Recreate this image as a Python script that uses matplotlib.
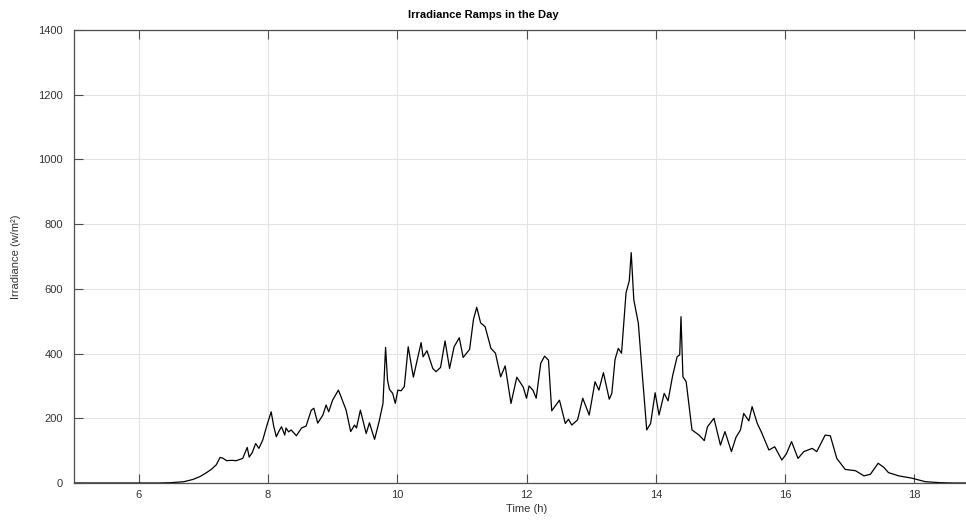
#!/usr/bin/env python3

import matplotlib
matplotlib.use("Agg")
import matplotlib.pyplot as plt
import numpy as np

# --- Data (hours, W/m^2) ---
time_h = [
    5.0, 6.0, 6.3, 6.5, 6.7, 6.84, 6.95, 7.05, 7.13, 7.20, 7.26, 7.30, 7.36,
    7.44, 7.51, 7.61, 7.68, 7.71, 7.76, 7.81, 7.86, 7.92, 7.99, 8.05, 8.09,
    8.13, 8.17, 8.21, 8.26, 8.28, 8.32, 8.36, 8.44, 8.52, 8.59, 8.67, 8.71,
    8.77, 8.85, 8.90, 8.94, 9.00, 9.09, 9.13, 9.21, 9.28, 9.34, 9.37, 9.43,
    9.52, 9.57, 9.65, 9.72, 9.78, 9.82, 9.85, 9.88, 9.93, 9.97, 10.01, 10.06,
    10.11, 10.17, 10.25, 10.31, 10.37, 10.40, 10.46, 10.55, 10.60, 10.67,
    10.74, 10.81, 10.88, 10.96, 11.02, 11.12, 11.18, 11.23, 11.29, 11.36,
    11.45, 11.52, 11.60, 11.67, 11.76, 11.85, 11.95, 12.00, 12.04, 12.10,
    12.15, 12.22, 12.28, 12.34, 12.39, 12.51, 12.60, 12.65, 12.70, 12.79,
    12.87, 12.97, 13.06, 13.12, 13.19, 13.28, 13.32, 13.37, 13.42, 13.47,
    13.54, 13.59, 13.62, 13.66, 13.73, 13.79, 13.86, 13.92, 13.99, 14.05,
    14.13, 14.19, 14.26, 14.33, 14.37, 14.39, 14.42, 14.47, 14.56, 14.67,
    14.75, 14.80, 14.90, 15.00, 15.07, 15.17, 15.24, 15.31, 15.36, 15.44,
    15.49, 15.57, 15.63, 15.75, 15.84, 15.95, 16.02, 16.10, 16.20, 16.29,
    16.42, 16.49, 16.62, 16.70, 16.80, 16.93, 17.09, 17.22, 17.32, 17.44,
    17.53, 17.60, 17.76, 17.96, 18.17, 18.40, 18.60, 18.90,
]
irradiance = [
    0, 0, 0, 1, 4, 11, 20, 32, 43, 56, 79, 77, 69,
    70, 69, 76, 110, 80, 95, 122, 107, 133, 182, 220, 175,
    143, 160, 174, 148, 170, 158, 164, 146, 170, 176, 225, 231,
    185, 210, 241, 220, 256, 287, 267, 225, 159, 179, 170, 225,
    153, 186, 135, 190, 246, 419, 318, 289, 277, 246, 287, 285,
    298, 421, 327, 380, 434, 390, 409, 354, 344, 357,
    439, 354, 421, 449, 388, 413, 506, 543, 495, 483,
    416, 401, 328, 362, 246, 327, 296, 262, 300, 287,
    262, 370, 392, 380, 223, 256, 184, 197, 179, 195,
    262, 210, 313, 287, 341, 259, 277, 382, 416, 401,
    588, 625, 712, 566, 494, 339, 164, 184, 279, 210,
    277, 254, 331, 390, 396, 514, 328, 313, 164, 148,
    131, 174, 200, 117, 159, 97, 141, 164, 215, 192,
    236, 184, 159, 102, 112, 71, 90, 128, 76, 97,
    107, 97, 148, 146, 76, 42, 38, 22, 27, 61,
    48, 32, 22, 15, 4, 1, 0, 0,
]

x_ticks = [6, 8, 10, 12, 14, 16, 18]
y_ticks = [0, 200, 400, 600, 800, 1000, 1200, 1400]

plt.rcParams["font.family"] = ["Liberation Sans", "DejaVu Sans"]

fig = plt.figure(figsize=(9.66, 5.23), dpi=100)
# right edge of the axes runs past the image, as in the reference
ax = fig.add_axes([74 / 966, 40 / 523, 905 / 966, 453 / 523])

ax.plot(time_h, irradiance, color="black", linewidth=0.9)

ax.set_xlim(5, 19)
ax.set_ylim(0, 1400)
ax.set_xticks(x_ticks)
ax.set_yticks(y_ticks)

ax.grid(True, color="#e3e3e3", linewidth=0.8)
ax.set_axisbelow(True)

ax.tick_params(axis="both", direction="in", length=6.5, width=0.8,
               color="#4d4d4d", labelcolor="#333333", labelsize=8,
               top=True, right=True)
ax.tick_params(axis="x", pad=5)
ax.tick_params(axis="y", pad=8)
for s in ax.spines.values():
    s.set_color("#4d4d4d")
    s.set_linewidth(0.9)

ax.set_xlabel("Time (h)", fontsize=8, color="#333333", labelpad=3)
ax.set_ylabel("Irradiance (w/m²)", fontsize=8, color="#333333", labelpad=12)
ax.set_title("Irradiance Ramps in the Day", fontsize=8, fontweight="bold",
             x=(483 - 74) / 905, pad=9)

fig.savefig("out.png", dpi=100)
